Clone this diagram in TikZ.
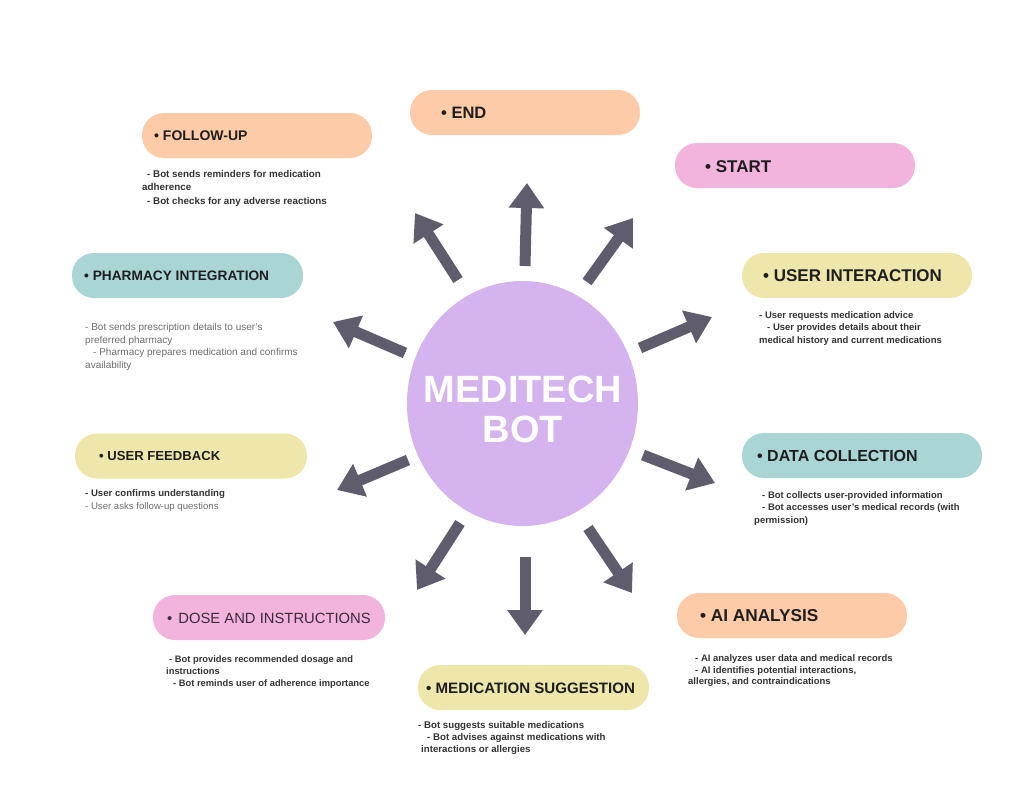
\documentclass[tikz,border=0pt]{standalone}
\usepackage{fontspec}
\setmainfont{Liberation Sans}
\usetikzlibrary{arrows.meta,shapes.geometric}
\definecolor{peach}{HTML}{FDCBA8}
\definecolor{pinkc}{HTML}{F2B3DD}
\definecolor{yellowc}{HTML}{EEE6AB}
\definecolor{tealc}{HTML}{AAD5D5}
\definecolor{lav}{HTML}{D4B3EF}
\definecolor{arrc}{HTML}{5F5C6E}
\definecolor{titlec}{HTML}{1E1E1E}
\definecolor{descc}{HTML}{333333}
\definecolor{lightc}{HTML}{6E6E6E}
\definecolor{dosec}{HTML}{3B2B3B}
\newcommand{\fsz}[2]{\fontsize{#1}{#2}\selectfont}
\begin{document}
\begin{tikzpicture}[x=1pt,y=-1pt,
  pill/.style={rounded corners=22pt, minimum height=45pt, inner sep=0pt, draw=none},
  ttl/.style={anchor=west, inner sep=0pt, text=titlec},
  desc/.style={anchor=north west, inner sep=0pt, align=left, text=descc},
  arr/.style={draw=arrc, line width=11pt, -{Triangle[width=34pt,length=25pt]}}]
\useasboundingbox (0,0) rectangle (1021,807);
\fill[white] (0,0) rectangle (1021,807);

% central ellipse
\node[ellipse, fill=lav, minimum width=231pt, minimum height=245pt, inner sep=0pt] (bot) at (522.5,403.5) {};
\node[text=white, font=\bfseries\fsz{38}{40}, align=center, inner sep=0pt] (bottxt) at (523,409.5) {MEDITECH\\BOT};

% boxes
\node[pill, fill=peach,   minimum width=230pt] (endbox)  at (525,112.5) {};
\node[pill, fill=pinkc,   minimum width=240pt] (startbox) at (795,165.5) {};
\node[pill, fill=peach,   minimum width=230pt] (fubox)   at (257,135.5) {};
\node[pill, fill=yellowc, minimum width=230pt] (uibox)   at (857,275.5) {};
\node[pill, fill=tealc,   minimum width=231pt] (phbox)   at (187.5,275.5) {};
\node[pill, fill=tealc,   minimum width=240pt] (dcbox)   at (862,455.5) {};
\node[pill, fill=yellowc, minimum width=232pt] (ufbox)   at (191,456) {};
\node[pill, fill=peach,   minimum width=230pt] (aibox)   at (792,615.5) {};
\node[pill, fill=pinkc,   minimum width=232pt] (dobox)   at (269,617.5) {};
\node[pill, fill=yellowc, minimum width=231pt] (msbox)   at (533.5,687.5) {};

% titles
\node[ttl, font=\bfseries\fsz{16.5}{18}] (endt)   at (441,113) {• END};
\node[ttl, font=\bfseries\fsz{17}{19}]   (startt) at (705,167) {• START};
\node[ttl, font=\bfseries\fsz{14}{16}]   (fut)    at (154,136) {• FOLLOW-UP};
\node[ttl, font=\bfseries\fsz{17}{19}]   (uit)    at (763,276) {• USER INTERACTION};
\node[ttl, font=\bfseries\fsz{13.7}{16}] (pht)    at (84,276) {• PHARMACY INTEGRATION};
\node[ttl, font=\bfseries\fsz{16}{18}]   (dct)    at (757,456) {• DATA COLLECTION};
\node[ttl, font=\bfseries\fsz{13.1}{15}] (uft)    at (99,456) {• USER FEEDBACK};
\node[ttl, font=\bfseries\fsz{17.2}{19}] (ait)    at (700,616) {• AI ANALYSIS};
\node[ttl, font=\fsz{14.8}{17}, text=dosec] (dot) at (167,618) {•\hspace{6pt}DOSE AND INSTRUCTIONS};
\node[ttl, font=\bfseries\fsz{15.1}{17}] (mst)    at (426,688) {• MEDICATION SUGGESTION};

% descriptions
\node[desc, font=\bfseries\fsz{9.8}{13.5}] (fud) at (142,169.9)
  {\hspace*{5pt}- Bot sends reminders for medication\\adherence\\\hspace*{5pt}- Bot checks for any adverse reactions};
\node[desc, font=\bfseries\fsz{9.5}{12.6}] (uid) at (759,311.2)
  {- User requests medication advice\\\hspace*{8pt}- User provides details about their\\medical history and current medications};
\node[desc, font=\fsz{10}{12.8}, text=lightc] (phd) at (85,322.8)
  {- Bot sends prescription details to user's\\preferred pharmacy\\\hspace*{8pt}- Pharmacy prepares medication and confirms\\availability};
\node[desc, font=\bfseries\fsz{9.6}{12.5}] (ufd) at (85,489.6)
  {- User confirms understanding\\{\mdseries\color{lightc}- User asks follow-up questions}};
\node[desc, font=\bfseries\fsz{9.5}{12.2}] (dcd) at (754,491.7)
  {\hspace*{8pt}- Bot collects user-provided information\\\hspace*{8pt}- Bot accesses user's medical records (with\\permission)};
\node[desc, font=\bfseries\fsz{9.5}{11.8}] (aid) at (688,654.2)
  {\hspace*{7pt}- AI analyzes user data and medical records\\\hspace*{7pt}- AI identifies potential interactions,\\allergies, and contraindications};
\node[desc, font=\bfseries\fsz{9.35}{12}] (dod) at (166,655.3)
  {\hspace*{3pt}- Bot provides recommended dosage and\\instructions\\\hspace*{7pt}- Bot reminds user of adherence importance};
\node[desc, font=\bfseries\fsz{9.7}{12}] (msd) at (418,721)
  {- Bot suggests suitable medications\\\hspace*{9pt}- Bot advises against medications with\\\hspace*{3pt}interactions or allergies};

% arrow ends
\coordinate (a1s) at (525,266);  \coordinate (a1e) at (527,183);
\coordinate (a2s) at (458,280);  \coordinate (a2e) at (415,213);
\coordinate (a3s) at (587,282);  \coordinate (a3e) at (633,218);
\coordinate (a4s) at (640,348);  \coordinate (a4e) at (712,317);
\coordinate (a5s) at (405,353);  \coordinate (a5e) at (333,322);
\coordinate (a6s) at (408,460);  \coordinate (a6e) at (337,490);
\coordinate (a7s) at (643,455);  \coordinate (a7e) at (715,483);
\coordinate (a8s) at (460,523);  \coordinate (a8e) at (417,590);
\coordinate (a9s) at (525,557);  \coordinate (a9e) at (525,635);
\coordinate (a10s) at (588,528); \coordinate (a10e) at (632,593);

\foreach \i in {1,...,10} {\draw[arr] (a\i s) -- (a\i e);}
\end{tikzpicture}
\end{document}
